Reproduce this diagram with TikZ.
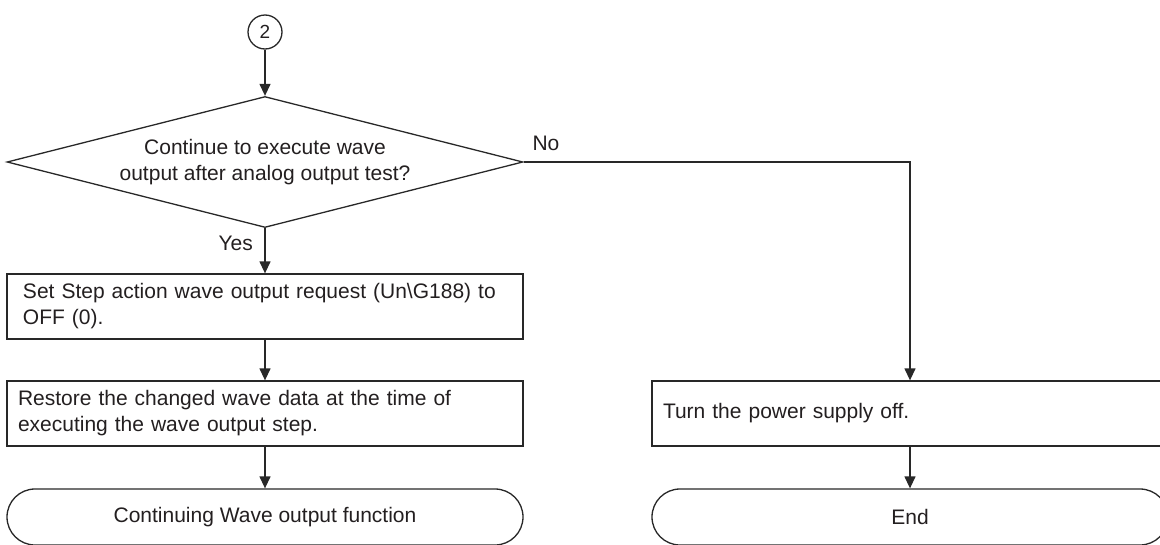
\documentclass[tikz,border=0pt]{standalone}
\usepackage{fontspec}
\setmainfont{Liberation Sans}
\usetikzlibrary{shapes.geometric,arrows.meta}
\definecolor{ink}{RGB}{40,40,40}
\definecolor{txt}{RGB}{35,31,32}
\begin{document}
\begin{tikzpicture}[x=1pt,y=-1pt,
  base/.style={draw=ink, line width=1.3pt, text=txt, font=\fontsize{21}{26}\selectfont},
  proc/.style={base, rectangle, minimum width=516pt, minimum height=65pt, align=left, inner ysep=0pt},
  term/.style={base, rectangle, rounded corners=28pt, minimum width=516pt, minimum height=56pt},
  decision/.style={base, diamond, aspect=3.94, minimum width=516pt, minimum height=131pt, inner sep=0pt, align=center},
  conn/.style={base, circle, minimum size=34pt, inner sep=0pt, font=\fontsize{19}{22}\selectfont},
  arrow/.style={draw=ink, line width=1.3pt, -{Triangle[length=12pt,width=11pt]}},
  lbl/.style={text=txt, inner sep=0pt, font=\fontsize{21}{26}\selectfont}
]
\useasboundingbox (0,0) rectangle (1160,544);

\node[conn] (c2) at (265,32) {2};
\node[decision] (dec) at (265,162) {Continue to execute wave\\output after analog output test?};
\node[proc, inner xsep=16pt, text width=484pt] (b1) at (265,306.5) {Set Step action wave output request (Un\textbackslash G188) to\\OFF (0).};
\node[proc, inner xsep=11pt, text width=494pt] (b2) at (265,413.5) {Restore the changed wave data at the time of\\executing the wave output step.};
\node[term] (t1) at (265,517) {Continuing Wave output function};
\node[proc, inner xsep=11pt, text width=494pt] (b3) at (910,413.5) {Turn the power supply off.};
\node[term] (t2) at (910,517) {End};

\node[lbl] (no) at (546,143.5) {No};
\node[lbl, anchor=east] (yes) at (253,243) {Yes};

\draw[arrow] (c2.south) -- (dec.north);
\draw[arrow] (dec.south) -- (b1.north);
\draw[arrow] (b1.south) -- (b2.north);
\draw[arrow] (b2.south) -- (t1.north);
\draw[arrow] (dec.east) -| (b3.north);
\draw[arrow] (b3.south) -- (t2.north);
\end{tikzpicture}
\end{document}
